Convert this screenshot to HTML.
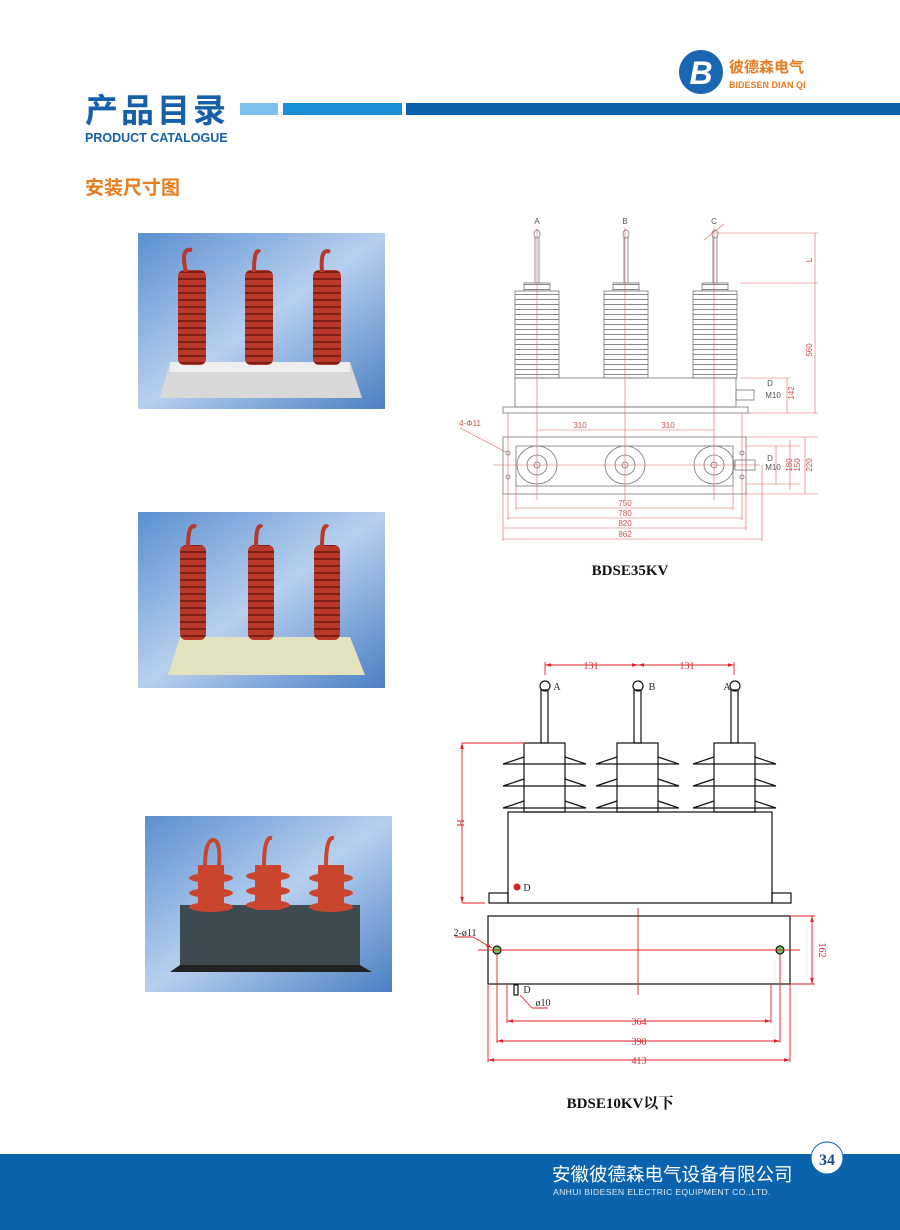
<!DOCTYPE html>
<html><head><meta charset="utf-8"><style>
body{margin:0;background:#fff}
svg{display:block}
</style></head><body>
<svg width="900" height="1230" xmlns="http://www.w3.org/2000/svg" font-family="Liberation Sans, Noto Sans CJK SC, sans-serif">
<defs>
<linearGradient id="bg" x1="0" y1="0" x2="1" y2="1"><stop offset="0" stop-color="#5c8fd0"/><stop offset="0.5" stop-color="#b7d0ee"/><stop offset="1" stop-color="#4b7fc4"/></linearGradient>
<pattern id="fin" width="10" height="7" patternUnits="userSpaceOnUse"><rect width="10" height="7" fill="#b8382a"/><rect y="5" width="10" height="2" fill="#7e1f16"/></pattern>
<pattern id="gfin" width="10" height="5" patternUnits="userSpaceOnUse"><rect width="10" height="5" fill="#fff"/><rect y="4" width="10" height="1" fill="#888"/></pattern>
<marker id="ar" viewBox="0 0 10 6" refX="10" refY="3" markerWidth="8" markerHeight="4" orient="auto-start-reverse"><path d="M0 0L10 3L0 6z" fill="#e02020"/></marker>
</defs>
<!-- header -->
<circle cx="701" cy="72" r="22" fill="#1a66b0"/>
<text x="701" y="84" font-size="32" font-weight="bold" fill="#fff" text-anchor="middle" font-style="italic">B</text>
<text x="729" y="72" font-size="15" font-weight="bold" fill="#e87b1e">彼德森电气</text>
<text x="729" y="88" font-size="9" font-weight="bold" fill="#e87b1e">BIDESEN DIAN QI</text>
<text x="85" y="122" font-size="33" font-weight="bold" fill="#1560a8" letter-spacing="3">产品目录</text>
<text x="85" y="142" font-size="12.5" font-weight="bold" fill="#1560a8">PRODUCT CATALOGUE</text>
<rect x="240" y="103" width="38" height="12" fill="#7cc0ee"/>
<rect x="283" y="103" width="119" height="12" fill="#1a8fd8"/>
<rect x="406" y="103" width="494" height="12" fill="#0c63ad"/>
<text x="85" y="194" font-size="19" font-weight="bold" fill="#e87b1e">安装尺寸图</text>

<!-- photo1 -->
<rect x="138" y="233" width="247" height="176" fill="url(#bg)"/>
<polygon points="170,362 350,362 362,398 160,398" fill="#d8d8d8"/>
<rect x="170" y="362" width="180" height="10" fill="#eee"/>
<g fill="url(#fin)"><rect x="178" y="270" width="28" height="95" rx="6"/><rect x="245" y="270" width="28" height="95" rx="6"/><rect x="313" y="270" width="28" height="95" rx="6"/></g>
<g fill="none" stroke="#b8382a" stroke-width="4"><path d="M186 272 q-6 -25 6 -22"/><path d="M254 272 q0 -25 6 -20"/><path d="M322 272 q-2 -25 8 -20"/></g>
<!-- photo2 -->
<rect x="138" y="512" width="247" height="176" fill="url(#bg)"/>
<polygon points="180,637 350,637 365,675 168,675" fill="#e2e2bf"/>
<g fill="url(#fin)"><rect x="180" y="545" width="26" height="95" rx="6"/><rect x="248" y="545" width="26" height="95" rx="6"/><rect x="314" y="545" width="26" height="95" rx="6"/></g>
<g fill="none" stroke="#b8382a" stroke-width="4"><path d="M188 547 q0 -25 8 -20"/><path d="M256 547 q0 -25 6 -20"/><path d="M322 547 q0 -25 6 -20"/></g>
<!-- photo3 -->
<rect x="145" y="816" width="247" height="176" fill="url(#bg)"/>
<rect x="180" y="905" width="180" height="60" fill="#3d4a50"/>
<polygon points="180,965 360,965 372,972 170,972" fill="#222"/>
<g fill="#c9452e"><rect x="198" y="865" width="26" height="45"/><rect x="255" y="865" width="26" height="45"/><rect x="318" y="865" width="26" height="45"/>
<ellipse cx="211" cy="878" rx="22" ry="5"/><ellipse cx="211" cy="893" rx="22" ry="5"/><ellipse cx="211" cy="907" rx="22" ry="5"/>
<ellipse cx="268" cy="876" rx="22" ry="5"/><ellipse cx="268" cy="891" rx="22" ry="5"/><ellipse cx="268" cy="905" rx="22" ry="5"/>
<ellipse cx="331" cy="878" rx="22" ry="5"/><ellipse cx="331" cy="893" rx="22" ry="5"/><ellipse cx="331" cy="907" rx="22" ry="5"/></g>
<g fill="none" stroke="#c9452e" stroke-width="4"><path d="M205 866 q0 -25 8 -26 q8 0 6 26"/><path d="M264 866 q0 -30 8 -28"/><path d="M326 866 q0 -30 8 -28"/></g>

<!-- drawing 1 -->
<g stroke="#777" stroke-width="0.8" fill="none">
<g id="ins1">
<rect x="524" y="283" width="26" height="8" fill="url(#gfin)"/>
<rect x="515" y="291" width="44" height="87" fill="url(#gfin)"/>
<rect x="535" y="236" width="4" height="47" fill="#fff"/>
<ellipse cx="537" cy="234" rx="3" ry="4" fill="#fff"/>
</g>
<use href="#ins1" x="89"/><use href="#ins1" x="178"/>
<rect x="515" y="378" width="221" height="29"/>
<rect x="503" y="407" width="245" height="6"/>
<rect x="736" y="390" width="18" height="10"/>
<rect x="503" y="437" width="243" height="57"/>
<rect x="516" y="446" width="217" height="40"/>
<ellipse cx="537" cy="465" rx="20" ry="19"/><circle cx="537" cy="465" r="10"/><circle cx="537" cy="465" r="3"/>
<ellipse cx="625" cy="465" rx="20" ry="19"/><circle cx="625" cy="465" r="10"/><circle cx="625" cy="465" r="3"/>
<ellipse cx="714" cy="465" rx="20" ry="19"/><circle cx="714" cy="465" r="10"/><circle cx="714" cy="465" r="3"/>
<circle cx="508" cy="453" r="2"/><circle cx="508" cy="477" r="2"/><circle cx="742" cy="453" r="2"/><circle cx="742" cy="477" r="2"/>
<rect x="735" y="460" width="20" height="10"/>
</g>
<g stroke="#e06060" stroke-width="0.6" fill="none">
<path d="M537 228V500 M625 228V500 M714 228V500 M493 465H760"/>
<path d="M537 430H714 M715 233H818 M740 283H818 M748 413H818 M815 233V413 M740 378H790 M787 378V413"/>
<path d="M746 446H800 M746 484H800 M746 437H818 M746 494H818 M776 446V484 M790 440V490 M805 437V494"/>
<path d="M516 508H733 M508 518H742 M503 528H746 M503 539H762 M516 486V510 M733 486V510 M508 413V520 M742 413V520 M503 494V541 M746 494V530 M762 465V541"/>
<path d="M460 428 L506 452 M704 240 L724 224"/>
</g>
<g font-size="8" fill="#d05050" text-anchor="middle">
<text x="537" y="224" fill="#555">A</text><text x="625" y="224" fill="#555">B</text><text x="714" y="224" fill="#555">C</text>
<text x="580" y="428">310</text><text x="668" y="428">310</text>
<text x="625" y="506">750</text><text x="625" y="516">780</text><text x="625" y="526">820</text><text x="625" y="537">862</text>
<text x="470" y="426">4-Φ11</text>
<text x="770" y="386" fill="#555">D</text><text x="773" y="398" fill="#555">M10</text>
<text x="770" y="461" fill="#555">D</text><text x="773" y="470" fill="#555">M10</text>
<text transform="translate(812,260) rotate(-90)">L</text>
<text transform="translate(812,350) rotate(-90)">560</text>
<text transform="translate(794,393) rotate(-90)">142</text>
<text transform="translate(792,465) rotate(-90)">180</text>
<text transform="translate(800,465) rotate(-90)">150</text>
<text transform="translate(812,465) rotate(-90)">220</text>
</g>
<text x="630" y="575" font-family="Liberation Serif, serif" font-size="15" font-weight="bold" text-anchor="middle" fill="#111">BDSE35KV</text>

<!-- drawing 2 -->
<g stroke="#111" stroke-width="1.2" fill="none">
<g id="ins2">
<rect x="541" y="690" width="7" height="53"/>
<circle cx="545" cy="686" r="5"/>
<rect x="524" y="743" width="41" height="69"/>
<path d="M503 764 L524 757 M565 757 L586 764 M503 764 H586 M503 786 L524 779 M565 779 L586 786 M503 786 H586 M503 808 L524 801 M565 801 L586 808 M503 808 H586"/>
</g>
<use href="#ins2" x="93"/><use href="#ins2" x="190"/>
<rect x="508" y="812" width="264" height="91"/>
<rect x="489" y="893" width="19" height="10"/><rect x="772" y="893" width="19" height="10"/>
<rect x="488" y="916" width="302" height="68"/>
<circle cx="497" cy="950" r="4" fill="#6c6"/><circle cx="780" cy="950" r="4" fill="#6c6"/>
<rect x="514" y="985" width="4" height="10"/>
</g>
<g stroke="#e02020" stroke-width="0.9" fill="none">
<path d="M545 665H638" marker-start="url(#ar)" marker-end="url(#ar)"/>
<path d="M638 665H734" marker-start="url(#ar)" marker-end="url(#ar)"/>
<path d="M545 662V675 M734 662V675"/>
<path d="M478 950H800 M638 908V995"/>
<path d="M462 743V903" marker-start="url(#ar)" marker-end="url(#ar)"/>
<path d="M462 743H525 M462 903H485"/>
<path d="M790 916H815 M790 984H815"/>
<path d="M812 916V984" marker-start="url(#ar)" marker-end="url(#ar)"/>
<path d="M507 1021H771" marker-start="url(#ar)" marker-end="url(#ar)"/>
<path d="M497 1041H780" marker-start="url(#ar)" marker-end="url(#ar)"/>
<path d="M488 1060H790" marker-start="url(#ar)" marker-end="url(#ar)"/>
<path d="M507 985V1023 M771 985V1023 M497 955V1043 M780 955V1043 M488 984V1062 M790 984V1062"/>
<path d="M455 937H473 L492 948" marker-end="url(#ar)"/>
<path d="M532 1008H548 M532 1008 L520 995"/>
<circle cx="517" cy="887" r="3" fill="#e02020"/>
</g>
<g font-family="Liberation Serif, serif" font-size="10" fill="#d03030" text-anchor="middle">
<text x="591" y="669">131</text><text x="687" y="669">131</text>
<text x="639" y="1025">364</text><text x="639" y="1045">390</text><text x="639" y="1064">413</text>
<text x="465" y="936" fill="#222">2-ø11</text>
<text x="543" y="1006" fill="#222">ø10</text>
<text transform="translate(819,950) rotate(90)">162</text>
<text transform="translate(457,823) rotate(90)">H</text>
<text x="557" y="690" fill="#222">A</text><text x="652" y="690" fill="#222">B</text><text x="727" y="690" fill="#222">A</text>
<text x="527" y="891" fill="#222">D</text><text x="527" y="993" fill="#222">D</text>
</g>
<text x="620" y="1108" font-family="Liberation Serif, Noto Serif CJK SC, serif" font-size="15" font-weight="bold" text-anchor="middle" fill="#111">BDSE10KV以下</text>

<!-- footer -->
<rect x="0" y="1154" width="900" height="76" fill="#0c63ad"/>
<circle cx="827" cy="1158" r="16" fill="#fff" stroke="#0c63ad" stroke-width="1"/>
<text x="827" y="1165" font-family="Liberation Serif, serif" font-size="16" font-weight="bold" fill="#1a4f8a" text-anchor="middle">34</text>
<text x="552" y="1181" font-size="18.5" fill="#fff">安徽彼德森电气设备有限公司</text>
<text x="553" y="1195" font-size="8.7" fill="#dfe9f5" letter-spacing="0.3">ANHUI BIDESEN ELECTRIC EQUIPMENT CO.,LTD.</text>
</svg>
</body></html>
